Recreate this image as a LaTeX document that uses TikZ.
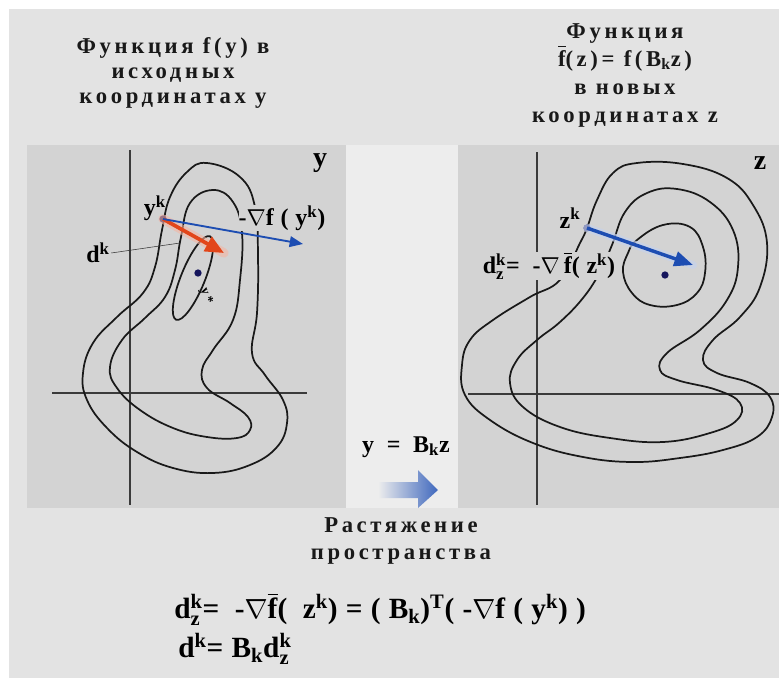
\documentclass[tikz,border=0pt]{standalone}
\usepackage{amsmath}
\usepackage{fontspec}
\setmainfont{Liberation Serif}
\newfontfamily\wideserif[LetterSpace=16]{Liberation Serif}
\newfontfamily\spreadserif[LetterSpace=28]{Liberation Serif}
\usepackage{tikz}
\usetikzlibrary{arrows.meta,positioning}
\definecolor{sheetgrey}{HTML}{E3E3E3}
\definecolor{gapgrey}{HTML}{EDEDED}
\definecolor{panelgrey}{HTML}{D3D3D3}
\definecolor{axisgrey}{HTML}{3A3A3A}
\definecolor{gradblue}{HTML}{1D4DB2}
\definecolor{stepred}{HTML}{E2461A}
\definecolor{pointnavy}{HTML}{15155C}
\newcommand{\up}[1]{$^{\text{#1}}$}
\newcommand{\dn}[1]{$_{\text{#1}}$}
\newcommand{\updn}[2]{$^{\text{#1}}_{\text{#2}}$}
\newcommand{\fbar}{$\overline{\text{f}}$}

\begin{document}
\begin{tikzpicture}[x=0.75pt,y=-0.75pt,
    titletext/.style={font=\wideserif\bfseries\fontsize{17}{19}\selectfont, align=center, text=black!90},
    tagtext/.style={font=\spreadserif\bfseries\fontsize{18}{20}\selectfont, inner sep=1pt},
    formula/.style={font=\spreadserif\bfseries\fontsize{22}{26}\selectfont, anchor=west, inner sep=0pt},
    levelline/.style={line width=1.3pt, black!90},
    axisline/.style={line width=0.8pt, axisgrey},
    dotmark/.style={circle, fill=pointnavy, inner sep=0pt, minimum size=5.5pt}]
  % fond, bande claire au milieu, deux cadres
  \useasboundingbox (0,0) rectangle (779,678);
  \fill[white] (0,0) rectangle (779,678);
  \fill[sheetgrey] (9,9) rectangle (779,678);
  \fill[gapgrey] (346,145) rectangle (458,508);
  \fill[panelgrey] (27,145) rectangle (346,508);
  \fill[panelgrey] (458,145) rectangle (779,508);

  % titres
  \node[titletext] (titley) at (173,73) {Функция f(y) в\\исходных\\координатах y};
  \node[titletext, font=\wideserif\bfseries\fontsize{17}{21}\selectfont] (titlez) at (625,75) {Функция\\\fbar(z)= f(B\dn{k}z)\\в новых\\координатах z};

  % axes
  \draw[axisline] (130,150) -- (130,505);
  \draw[axisline] (52,393) -- (307,393);
  \draw[axisline] (537,152) -- (537,505);
  \draw[axisline] (468,394) -- (779,394);
  \node[tagtext, font=\bfseries\fontsize{21}{21}\selectfont] (namey) at (320,163) {y};
  \node[tagtext, font=\bfseries\fontsize{21}{21}\selectfont] (namez) at (760,163) {z};

  % lignes de niveau, coordonnees y
  \draw[levelline] plot[smooth cycle, tension=0.7] coordinates {
    (207,163) (240,177) (255,207) (258,257) (257,313) (252,353) (265,375)
    (283,400) (287,423) (277,447) (250,465) (213,473) (173,468) (137,452)
    (107,428) (87,400) (83,373) (93,343) (117,317) (143,293) (155,267)
    (162,230) (170,197) (187,172)};
  \draw[levelline] plot[smooth cycle, tension=0.7] coordinates {
    (213,190) (233,202) (242,233) (240,280) (233,320) (213,350) (202,370)
    (207,388) (230,403) (248,417) (250,430) (237,438) (207,437) (173,428)
    (140,410) (117,388) (110,367) (122,340) (145,318) (165,297) (175,270)
    (181,237) (190,203)};
  \draw[levelline, rotate around={68:(193,278)}] (193,278) ellipse [x radius=45, y radius=12];

  % lignes de niveau, coordonnees z
  \draw[levelline] plot[smooth cycle, tension=0.7] coordinates {
    (637,163) (683,164) (727,178) (753,205) (767,243) (760,287) (740,317)
    (713,340) (703,360) (717,373) (750,383) (770,397) (772,417) (757,437)
    (723,450) (680,458) (633,462) (583,457) (533,443) (490,420) (465,395)
    (462,365) (470,340) (493,320) (530,297) (560,280) (580,243) (587,228)
    (597,200) (613,173)};
  \draw[levelline] plot[smooth cycle, tension=0.7] coordinates {
    (647,193) (677,189) (710,202) (733,230) (738,267) (727,300) (700,330)
    (667,353) (660,370) (677,380) (717,390) (740,403) (737,420) (710,433)
    (663,442) (610,438) (560,427) (523,407) (510,383) (517,360) (537,340)
    (560,322) (583,298) (600,272) (612,245) (625,212)};
  \draw[levelline] plot[smooth cycle, tension=0.7] coordinates {
    (637,240) (663,225) (690,227) (703,247) (705,273) (697,293) (677,305)
    (650,305) (632,293) (623,272) (628,253)};

  % points
  \node[dotmark] (yk) at (163,219) {};
  \node[dotmark] (ystar) at (198,273) {};
  \node[dotmark] (zk) at (587,228) {};
  \node[dotmark] (zstar) at (665,275) {};
  \coordinate (ytip) at (303,244);
  \coordinate (rtip) at (224,253);
  \coordinate (ztip) at (693,265);
  \coordinate (dkfoot) at (180,243);

  % etiquettes dans les cadres
  \node[tagtext] (yklabel) at (155,208) {y\up{k}};
  \node[tagtext, fill=panelgrey, inner sep=0pt] (gradyk) at (282,218) {-$\nabla$f(y\up{k})};
  \node[tagtext] (dk) at (98,253) {d\up{k}};
  \node[tagtext, font=\wideserif\bfseries\fontsize{10}{10}\selectfont, rotate=-70] (ystarlabel) at (206,296) {y*};
  \node[tagtext] (zklabel) at (570,218) {z\up{k}};
  \node[tagtext, fill=panelgrey, inner sep=0pt] (gradzk) at (549,266) {d\updn{k}{z}= -$\nabla$\,\fbar(z\up{k})};

  % fleches
  \draw[thin, black!80] (dk.east) -- (dkfoot);
  \draw[line width=7pt, stepred!40, opacity=0.6, line cap=round] (yk.center) -- (rtip);
  \draw[line width=2.8pt, stepred, -{Triangle[length=14pt,width=12pt]}] (yk.center) -- (rtip);
  \draw[line width=1.4pt, gradblue, -{Triangle[length=10pt,width=8pt]}] (yk.center) -- (ytip);
  \draw[line width=6pt, gradblue!25, opacity=0.7, line cap=round] (zk.center) -- (ztip);
  \draw[line width=2.6pt, gradblue, -{Triangle[length=14pt,width=11pt]}] (zk.center) -- (ztip);

  % passage y = B_k z
  \node[tagtext] (ybz) at (406,447) {y = B\dn{k}z};
  \shade[left color=gapgrey, right color=gradblue!85] (378,482) -- (418,482) -- (418,470)
    -- (438,490) -- (418,508) -- (418,498) -- (378,498) -- cycle;
  \node[titletext, font=\wideserif\bfseries\fontsize{17}{20}\selectfont] (stretch) at (401,541) {Растяжение\\пространства};

  % formules
  \node[formula] (eqdz) at (174,609) {d\updn{k}{z}= -$\nabla$\fbar( z\up{k})=(B\dn{k})\up{T}(-$\nabla$f(y\up{k}))};
  \node[formula] (eqdk) at (178,649) {d\up{k}=B\dn{k}d\updn{k}{z}};
\end{tikzpicture}
\end{document}
